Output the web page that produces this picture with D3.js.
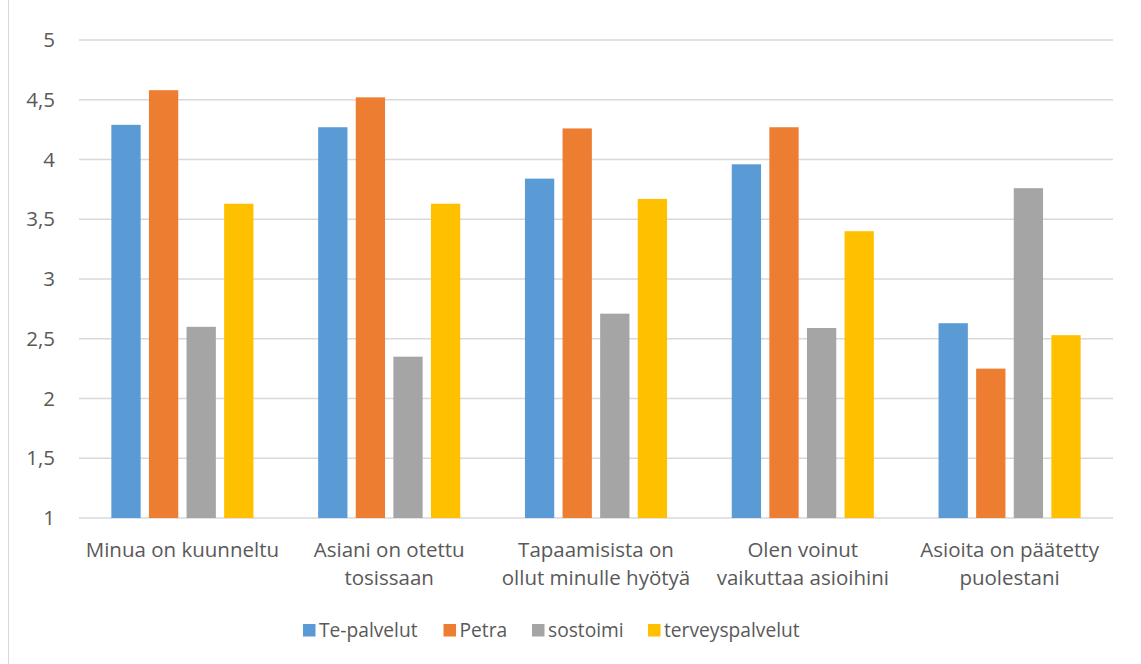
<!DOCTYPE html>
<html>
<head>
<meta charset="utf-8">
<script src="https://cdn.jsdelivr.net/npm/d3@7"></script>
<style>
  html, body { margin: 0; padding: 0; background: #fff; }
  svg { display: block; font-family: "Open Sans", "Noto Sans", sans-serif; }
</style>
</head>
<body>
<svg id="chart" width="1141" height="664"></svg>
<script>
// Survey categories (two-line labels) and series averages
const categories = [
  ["Minua on kuunneltu"],
  ["Asiani on otettu", "tosissaan"],
  ["Tapaamisista on", "ollut minulle hyötyä"],
  ["Olen voinut", "vaikuttaa asioihini"],
  ["Asioita on päätetty", "puolestani"]
];
const seriesNames = ["Te-palvelut", "Petra", "sostoimi", "terveyspalvelut"];
const tePalvelut = [4.29, 4.27, 3.84, 3.96, 2.63];
const petra = [4.58, 4.52, 4.26, 4.27, 2.25];
const sostoimi = [2.6, 2.35, 2.71, 2.59, 3.76];
const terveyspalvelut = [3.63, 3.63, 3.67, 3.4, 2.53];
const yTicks = [1, 1.5, 2, 2.5, 3, 3.5, 4, 4.5, 5];

const seriesValues = [tePalvelut, petra, sostoimi, terveyspalvelut];
const colors = ["#5b9bd5", "#ed7d31", "#a5a5a5", "#ffc000"];

const svg = d3.select("#chart");
const plot = { left: 79, right: 1113, top: 40, bottom: 518 };
const textColor = "#595959";
const axisFont = 20.5;
const legendFont = 19.2;

// chart frame edge
svg.append("line")
  .attr("x1", 8.5).attr("x2", 8.5).attr("y1", 0).attr("y2", 664)
  .attr("stroke", "#d9d9d9").attr("stroke-width", 1);

const x0 = d3.scaleBand()
  .domain(d3.range(categories.length))
  .range([plot.left, plot.right])
  .paddingInner(0).paddingOuter(0);

// bars inside a category: 29.3px wide, 8.3px apart, centred in the band
const barW = 29.3, barGap = 8.3;
const groupW = seriesNames.length * barW + (seriesNames.length - 1) * barGap;

const y = d3.scaleLinear().domain([1, 5]).range([plot.bottom, plot.top]);

// horizontal gridlines
svg.append("g")
  .selectAll("line")
  .data(yTicks)
  .join("line")
  .attr("x1", plot.left).attr("x2", plot.right)
  .attr("y1", d => y(d)).attr("y2", d => y(d))
  .attr("stroke", "#d9d9d9").attr("stroke-width", 1.5);

// y tick labels
const fmt = d => String(d).replace(".", ",");
svg.append("g")
  .selectAll("text")
  .data(yTicks)
  .join("text")
  .attr("x", 55).attr("y", d => y(d))
  .attr("dy", "0.35em")
  .attr("text-anchor", "end")
  .attr("fill", textColor)
  .attr("font-size", axisFont)
  .text(fmt);

// bars
const groups = svg.append("g")
  .selectAll("g")
  .data(seriesValues)
  .join("g")
  .attr("fill", (d, i) => colors[i]);

groups.each(function (vals, si) {
  d3.select(this).selectAll("rect")
    .data(vals)
    .join("rect")
    .attr("x", (v, ci) => x0(ci) + (x0.bandwidth() - groupW) / 2 + si * (barW + barGap))
    .attr("width", barW)
    .attr("y", v => y(v))
    .attr("height", v => y(1) - y(v));
});

// category labels
svg.append("g")
  .selectAll("text")
  .data(categories)
  .join("text")
  .attr("x", (d, i) => x0(i) + x0.bandwidth() / 2)
  .attr("y", 557)
  .attr("text-anchor", "middle")
  .attr("fill", textColor)
  .attr("font-size", axisFont)
  .each(function (lines) {
    d3.select(this).selectAll("tspan")
      .data(lines)
      .join("tspan")
      .attr("x", d3.select(this).attr("x"))
      .attr("dy", (l, k) => k === 0 ? 0 : 28)
      .text(l => l);
  });

// legend
const legendX = [303, 443.5, 532, 648];
const legend = svg.append("g")
  .selectAll("g")
  .data(seriesNames)
  .join("g")
  .attr("transform", (d, i) => `translate(${legendX[i]},624)`);
legend.append("rect")
  .attr("width", 12.5).attr("height", 12.5)
  .attr("fill", (d, i) => colors[i]);
legend.append("text")
  .attr("x", 16).attr("y", 13)
  .attr("fill", textColor)
  .attr("font-size", legendFont)
  .text(d => d);
</script>
</body>
</html>
